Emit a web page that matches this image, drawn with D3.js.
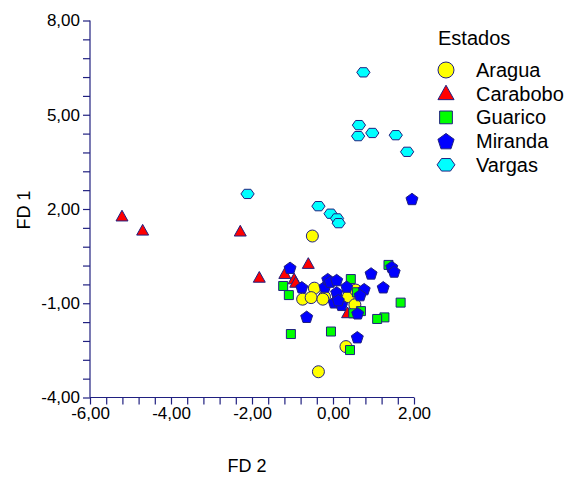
<!DOCTYPE html>
<html>
<head>
<meta charset="utf-8">
<script src="https://cdn.jsdelivr.net/npm/d3@7"></script>
<style>
  body { margin: 0; background: #fff; }
  text { font-family: "Liberation Sans", Arial, sans-serif; fill: #000; }
</style>
</head>
<body>
<div id="chart"></div>
<script>
// series: [FD 2, FD 1]
const aragua = [[-0.51,1.14],[-0.46,-0.52],[-0.75,-0.87],[-0.54,-0.82],[-0.21,-0.79],[-0.25,-0.87],
  [0.38,-0.79],[0.56,-0.58],[0.54,-1.05],[0.32,-2.38],[-0.36,-3.18]];
const carabobo = [[-5.21,1.76],[-4.70,1.31],[-2.29,1.28],[-1.82,-0.19],[-0.61,0.25],[-1.19,-0.07],
  [-0.96,-0.24],[-0.92,-0.35],[0.36,-1.32]];
const guarico = [[1.37,0.22],[0.44,-0.23],[-1.23,-0.45],[-1.09,-0.74],[0.59,-0.65],[0.10,-0.82],
  [1.67,-0.98],[0.69,-1.25],[0.50,-1.32],[1.27,-1.45],[1.09,-1.50],[-1.04,-1.98],[-0.05,-1.90],[0.42,-2.49]];
const miranda = [[-1.06,0.13],[-0.77,-0.49],[-0.20,-0.47],[-0.13,-0.23],[-0.07,-0.31],[0.09,-0.26],
  [0.09,-0.65],[0.03,-0.97],[0.21,-1.05],[-0.65,-1.43],[1.45,0.16],[1.51,0.01],[0.94,-0.05],
  [0.34,-0.47],[1.24,-0.49],[0.77,-0.55],[0.67,-0.74],[0.13,-0.90],[0.61,-1.32],[0.60,-2.08],[1.95,2.32]];
const vargas = [[0.75,6.35],[0.64,4.67],[0.62,4.32],[0.97,4.42],[1.55,4.35],[1.83,3.82],
  [-2.11,2.48],[-0.36,2.09],[-0.06,1.85],[0.10,1.70],[0.14,1.55]];

const stateNames = ["Aragua","Carabobo","Guarico","Miranda","Vargas"];
const stateData = [aragua, carabobo, guarico, miranda, vargas];
const stateColors = ["#ffff00","#ff0000","#00ff00","#0000ff","#00ffff"];
const stateShapes = ["circle","triangle","square","pentagon","hexagon"];

const xTicks = d3.range(21).map(i => -6 + i*0.4);
const yTicks = d3.range(21).map(i => -4 + i*0.6);

const width = 571, height = 477;
const navy = "#202080";

const x = d3.scaleLinear().domain([-6,2]).range([90,414]);
const y = d3.scaleLinear().domain([-4,8]).range([397.5,20.5]);

// path for each marker shape, s = rough radius
function shapePath(shape, s){
  if(shape==="circle") return d3.symbol(d3.symbolCircle, Math.PI*s*s)();
  if(shape==="square") return `M${-s*0.75},${-s*0.75}h${s*1.5}v${s*1.5}h${-s*1.5}Z`;
  let pts;
  if(shape==="triangle") pts = [[0,-s],[s*0.95,s*0.7],[-s*0.95,s*0.7]];
  if(shape==="pentagon") pts = d3.range(5).map(i => {
    const a = -Math.PI/2 + i*2*Math.PI/5; return [s*Math.cos(a), s*Math.sin(a)+s*0.1];});
  if(shape==="hexagon") pts = d3.range(6).map(i => {
    const a = i*Math.PI/3; return [s*1.05*Math.cos(a), s*0.85*Math.sin(a)];});
  return "M" + pts.map(p => p.join(",")).join("L") + "Z";
}

const svg = d3.select("#chart").append("svg")
  .attr("width",width).attr("height",height);

const fmt = v => v.toFixed(2).replace(".",",");

const yaxis = d3.axisLeft(y).tickValues(yTicks).tickSize(7).tickPadding(3)
  .tickFormat((d,i) => i%5===0 ? fmt(d) : "");
const xaxis = d3.axisBottom(x).tickValues(xTicks).tickSize(7).tickPadding(2)
  .tickFormat((d,i) => i%5===0 ? fmt(d) : "");

const gy = svg.append("g").attr("transform","translate(90,0)").call(yaxis);
const gx = svg.append("g").attr("transform","translate(0,397.5)").call(xaxis);
[gx,gy].forEach(g => {
  g.selectAll("path,line").attr("stroke",navy).attr("stroke-width",1.2);
  g.select(".domain").attr("d", g===gx ? "M90,0H414" : "M0,20.5V397.5");
  g.selectAll("text").style("font-size","17px").attr("fill","#000")
    .style("font-family","'Liberation Sans', Arial, sans-serif");
});

svg.append("text").attr("transform","translate(30,210) rotate(-90)")
  .attr("text-anchor","middle").style("font-size","18px").text("FD 1");
svg.append("text").attr("x",247).attr("y",472)
  .attr("text-anchor","middle").style("font-size","18px").text("FD 2");

// points
stateData.forEach((data,k) => {
  svg.append("g").selectAll("path").data(data).join("path")
    .attr("transform", d => `translate(${x(d[0])},${y(d[1])})`)
    .attr("d", shapePath(stateShapes[k], k===0 ? 6 : k===2 ? 6 : 6.3))
    .attr("fill", stateColors[k])
    .attr("stroke", navy).attr("stroke-width",1);
});

// legend
const legend = svg.append("g");
legend.append("text").attr("x",438).attr("y",45).style("font-size","20px").text("Estados");
stateNames.forEach((name,k) => {
  const yy = 70 + k*23.7;
  legend.append("path").attr("transform",`translate(446,${yy})`)
    .attr("d", shapePath(stateShapes[k], k===0 ? 8 : 8.5))
    .attr("fill", stateColors[k]).attr("stroke", navy).attr("stroke-width",1);
  legend.append("text").attr("x",476).attr("y",yy+7).style("font-size","20px").text(name);
});
</script>
</body>
</html>
